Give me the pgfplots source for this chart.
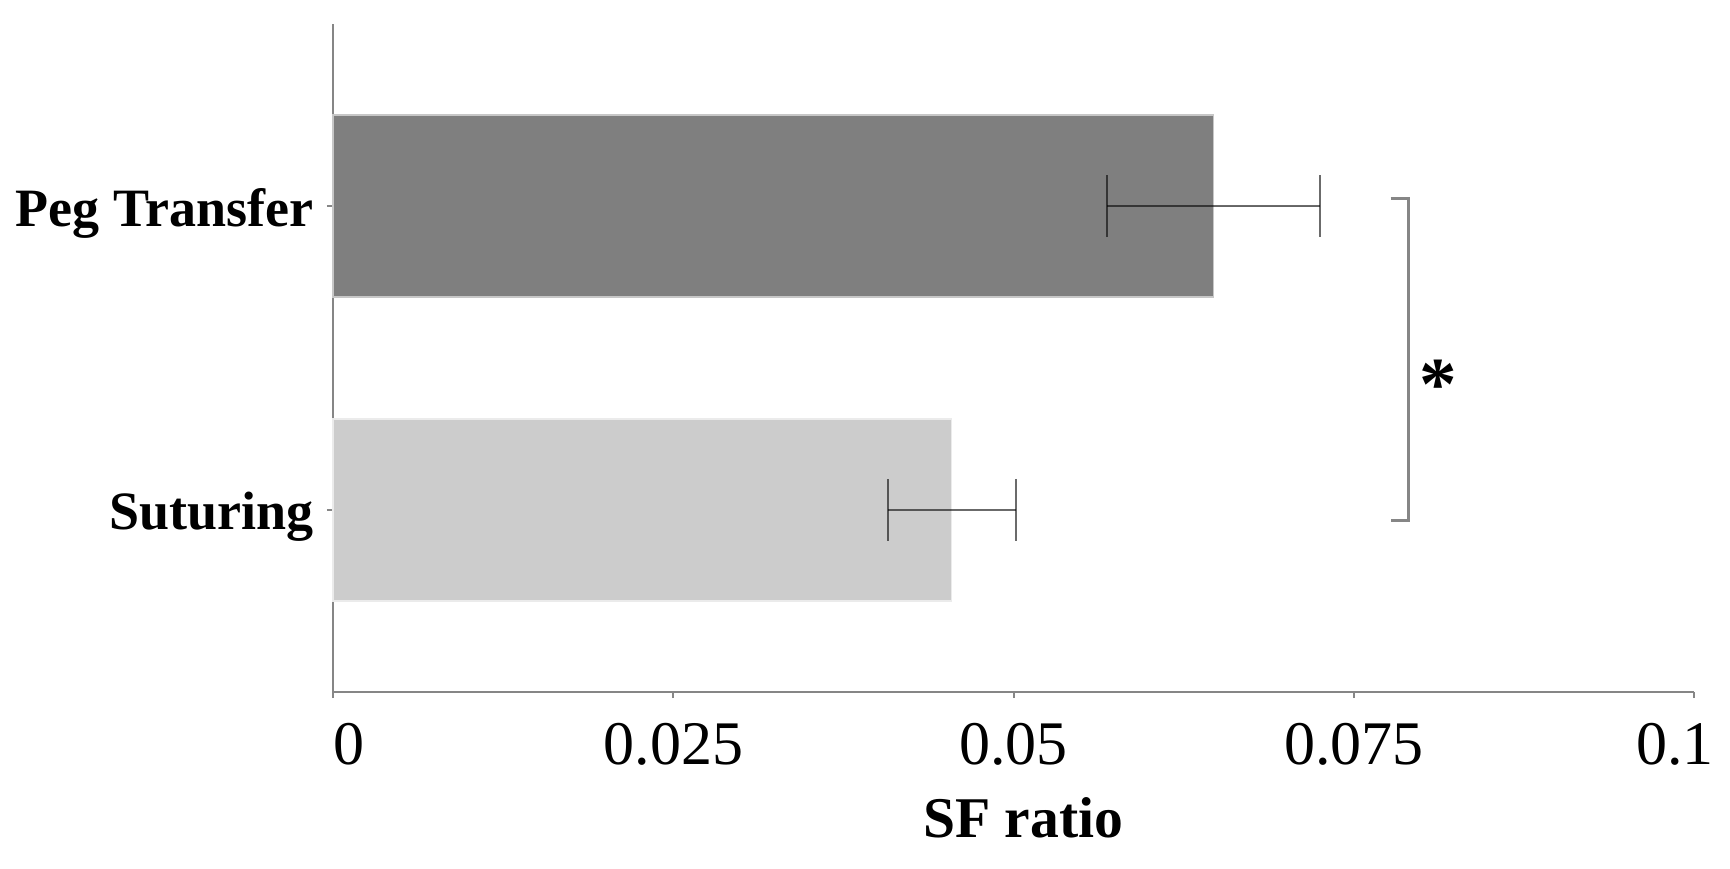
\documentclass[border=0pt]{standalone}
\usepackage{fontspec}
\setmainfont{Liberation Serif}
\usepackage{pgfplots}
\pgfplotsset{compat=1.18}
\definecolor{pegc}{HTML}{7F7F7F}
\definecolor{sutc}{HTML}{CCCCCC}
\definecolor{axc}{HTML}{868686}
\begin{document}
\begin{tikzpicture}
\begin{axis}[
 at={(0,0)}, anchor=south west,
 scale only axis, width=340.25pt, height=167pt,
 xmin=0, xmax=0.1, ymin=-0.6, ymax=1.6,
 axis lines=left, axis line style={-, draw=axc, line width=0.5pt},
 xtick={0,0.025,0.05,0.075,0.1},
 xticklabels={\hspace*{7.8pt}0,0.025,0.05,0.075,0.1\hspace*{9.4pt}},
 ytick={0,1}, yticklabels={Suturing, Peg Transfer},
 tick align=outside, major tick length=1.5pt,
 tick style={draw=axc, line width=0.5pt},
 xticklabel style={font=\fontsize{15.5}{18}\selectfont, anchor=base, yshift=-16.5pt},
 yticklabel style={font=\fontsize{13.5}{16}\selectfont\bfseries, anchor=base east, inner sep=0pt, xshift=-3.25pt, yshift=-5pt},
 xlabel={SF ratio},
 xlabel style={font=\fontsize{14.4}{17}\selectfont\bfseries, at={(rel axis cs:0.5,0)}, anchor=base, yshift=-36.25pt, xshift=2.4pt},
 xbar, bar width=0.6, bar shift=0pt,
 clip=false,
]
\addplot[xbar, bar shift=0pt, fill=pegc, draw=black!22, line width=0.4pt,
  error bars/.cd, x dir=both, x explicit,
  error bar style={line width=0.5pt, draw=black, draw opacity=0.58},
  error mark options={rotate=90, line width=0.5pt, draw=black, draw opacity=0.58, mark size=7.75pt}]
  coordinates {(0.0647,1) +- (0.0078,0)};
\addplot[xbar, bar shift=0pt, fill=sutc, draw=black!8, line width=0.4pt,
  error bars/.cd, x dir=both, x explicit,
  error bar style={line width=0.5pt, draw=black, draw opacity=0.58},
  error mark options={rotate=90, line width=0.5pt, draw=black, draw opacity=0.58, mark size=7.75pt}]
  coordinates {(0.04545,0) +- (0.0047,0)};
\draw[draw=axc, line width=0.75pt] (axis cs:0.0777,1.024) -- (axis cs:0.0790,1.024) -- (axis cs:0.0790,-0.036) -- (axis cs:0.0777,-0.036);
\node[font=\fontsize{18.75}{20}\selectfont\bfseries, anchor=base, inner sep=0pt] at (axis cs:0.0812,0.329) {*};
\end{axis}
\pgfresetboundingbox
\useasboundingbox (-83.25pt,-44pt) rectangle (349.25pt,173pt);
\end{tikzpicture}
\end{document}
